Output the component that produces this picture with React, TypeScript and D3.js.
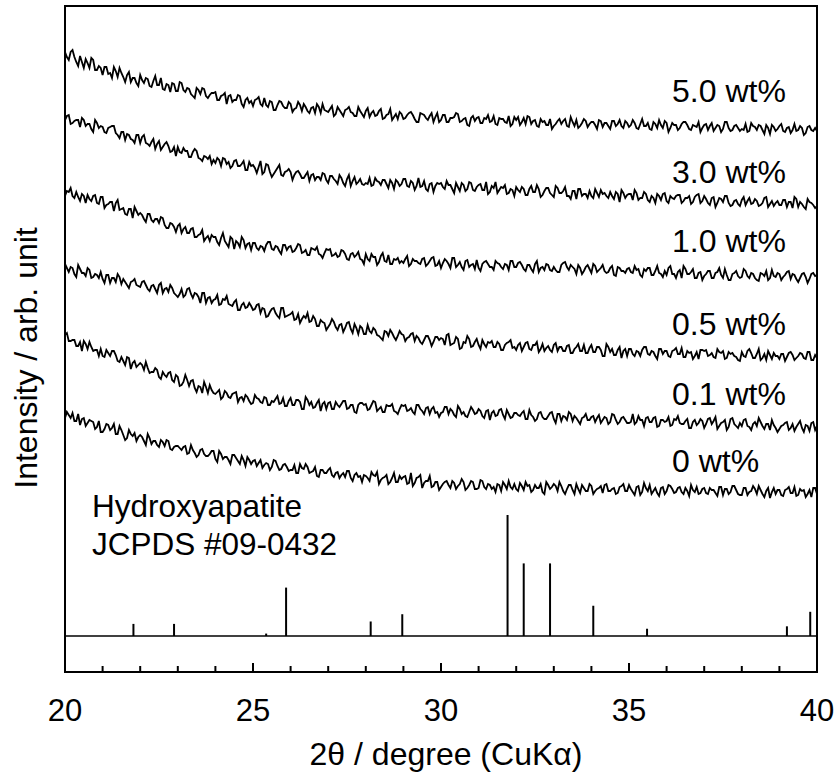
import React from "react";
import * as d3 from "d3";

// 2θ sampling grid (degrees): main samples every 0.1°, intermediate samples at +0.05°
const angles: number[] = d3.range(201).map((i) => +(20 + i * 0.1).toFixed(2));
const midAngles: number[] = d3.range(200).map((i) => +(20.05 + i * 0.1).toFixed(2));

const seriesLabels = ["5.0 wt%", "3.0 wt%", "1.0 wt%", "0.5 wt%", "0.1 wt%", "0 wt%"];

// stacked intensities (arb. unit) — samples at 20.0, 20.1, ... 40.0
const s50 = [
  620,612,622,610,616,604,609,614,602,606, 597,605,599,605,595,599,590,600,594,589,
  597,589,593,585,596,587,583,588,580,588, 581,589,580,583,576,584,578,583,574,579,
  580,572,577,568,577,572,577,568,572,569, 566,573,568,574,565,570,562,571,566,564,
  568,563,570,561,565,559,565,568,559,562, 560,566,558,562,556,563,560,556,565,558,
  561,555,561,557,563,554,558,552,558,560, 553,557,560,553,550,558,554,556,550,559,
  552,557,550,554,559,550,553,547,554,551, 555,549,553,550,556,547,553,550,556,548,
  552,547,554,556,548,552,545,550,547,553, 546,551,548,553,545,550,552,546,553,545,
  550,547,552,545,549,543,551,548,546,551, 545,552,544,548,546,549,542,548,552,544,
  549,544,547,542,548,550,543,547,545,540, 547,542,549,544,546,543,550,541,546,544,
  543,548,541,546,542,546,538,544,547,541, 546,541,544,539,548,542,544,539,546,541,
  541,
];
const s50mid = [
  615,620,615,606,610,613,604,612,602,604, 605,598,594,601,604,595,597,590,594,586,
  592,594,586,591,587,594,582,587,589,581, 590,582,584,578,574,582,584,576,577,579,
  572,576,579,576,570,572,576,565,574,571, 572,575,566,567,571,562,567,570,564,570,
  560,564,567,568,561,564,559,565,568,561, 563,556,565,559,562,565,559,556,561,555,
  564,559,556,561,553,557,563,555,553,558, 554,559,557,550,559,557,552,559,555,550,
  557,550,554,555,558,551,554,546,556,554, 549,554,557,551,548,554,553,549,546,555,
  555,550,548,555,551,546,553,551,547,543, 548,553,551,546,555,546,544,549,551,548,
  550,543,551,549,546,551,546,552,544,549, 547,549,543,553,546,543,550,544,547,551,
  540,549,547,544,550,547,542,546,550,544, 548,546,541,547,540,550,544,542,547,541,
  542,540,549,545,547,542,547,538,545,543, 548,540,545,542,541,546,537,545,542,544,
];
const s30 = [
  552,557,549,552,545,552,548,543,552,544, 545,539,545,546,537,540,532,537,532,537,
  529,537,528,530,523,531,525,530,520,525, 525,519,521,515,520,521,513,516,513,508,
  509,512,514,508,504,511,506,508,502,510, 507,499,511,500,507,495,501,507,496,501,
  500,497,501,494,497,491,498,495,492,498, 489,496,491,497,489,493,486,495,490,488,
  489,494,487,491,487,492,484,489,492,486, 493,486,491,482,494,486,483,488,480,489,
  489,483,487,483,489,481,487,483,489,481, 487,482,490,480,484,479,485,487,479,482,
  485,480,483,477,486,480,483,477,484,479, 475,484,479,485,476,481,473,483,478,474,
  476,483,475,478,476,480,473,478,482,474, 478,472,479,474,480,472,476,469,476,478,
  471,476,473,477,469,474,476,470,477,469, 476,469,474,465,474,470,476,466,471,468,
  472,467,474,469,471,467,474,465,471,469, 467,472,465,470,475,465,468,463,470,467,
  466,
];
const s30mid = [
  556,548,551,552,554,546,548,540,549,546, 540,544,546,539,534,540,538,533,529,537,
  535,529,526,533,528,522,528,526,521,516, 520,524,521,515,523,514,511,515,516,512,
  514,506,513,510,506,512,506,511,502,506, 504,505,498,508,500,498,504,497,500,503,
  492,500,498,494,500,497,492,495,499,492, 496,493,488,494,486,497,491,488,493,487,
  488,486,494,490,492,488,492,483,490,488, 493,485,489,486,485,491,481,489,486,488,
  485,491,487,479,485,489,481,490,482,485, 488,482,478,486,490,482,484,478,483,476,
  482,485,477,483,480,487,475,481,484,477, 486,479,481,476,473,481,483,476,478,481,
  474,479,482,479,474,476,480,470,479,477, 478,482,472,474,478,470,474,478,472,479,
  469,474,476,477,471,474,468,475,478,471, 473,467,475,469,473,476,469,467,472,466,
  475,471,468,473,466,469,475,468,466,471, 467,472,470,464,473,470,465,473,469,464,
];
const s10 = [
  476,480,476,480,471,476,477,471,477,468, 475,467,470,461,472,463,458,463,454,461,
  459,453,458,452,453,449,454,444,449,445, 446,439,445,439,444,435,438,431,436,437,
  435,427,439,428,435,423,429,435,424,429, 429,424,426,421,430,423,426,421,427,422,
  426,421,428,419,422,417,423,425,417,419, 422,416,419,416,421,413,418,415,420,412,
  418,411,415,407,416,411,417,408,412,409, 409,416,408,411,409,413,406,411,415,407,
  404,413,408,414,405,410,402,412,407,403, 404,408,411,405,402,409,405,408,402,411,
  405,410,403,407,403,408,400,405,408,402, 405,400,407,410,402,405,398,404,401,407,
  399,406,402,407,399,404,397,405,401,399, 404,399,402,397,403,404,397,401,399,395,
  397,406,398,400,394,403,398,403,394,400, 396,401,394,399,404,394,397,392,399,396,
  395,401,394,398,392,399,396,392,402,395, 398,395,400,393,397,390,398,395,393,399,
  397,
];
const s10mid = [
  481,484,474,475,478,469,473,476,469,475, 464,468,470,469,462,464,457,463,465,457,
  457,450,458,450,453,455,447,444,448,440, 448,443,439,443,435,437,442,434,431,435,
  430,434,431,425,433,431,425,432,428,422, 429,422,425,427,430,422,425,418,427,425,
  420,424,427,420,417,424,422,418,414,423, 423,417,415,422,418,412,419,417,413,408,
  413,418,415,410,419,410,408,413,414,411, 413,406,413,411,408,414,408,414,406,411,
  409,411,404,414,407,405,411,405,408,412, 401,410,408,405,411,408,403,407,411,405,
  409,407,401,407,400,411,404,402,407,401, 402,400,409,405,407,403,407,398,405,403,
  408,400,404,401,400,406,396,404,401,403, 400,406,403,395,401,404,397,406,398,401,
  404,398,394,402,406,398,400,394,399,392, 398,401,394,400,397,403,392,398,401,394,
  403,396,399,394,391,398,401,394,396,399, 392,397,401,398,393,394,399,389,398,396,
];
const s05 = [
  408,400,404,395,403,399,404,394,398,394, 393,397,389,394,398,388,390,384,391,387,
  385,391,383,386,383,387,379,384,387,379, 375,383,377,384,374,378,369,379,374,369,
  373,367,373,376,367,370,362,367,364,369, 362,367,359,363,356,363,359,354,364,356,
  358,352,358,353,354,350,356,346,352,349, 345,353,345,347,340,349,343,348,338,344,
  338,341,344,337,334,341,336,339,332,341, 337,334,338,331,334,328,336,332,330,335,
  334,327,338,328,335,323,330,336,325,330, 327,332,325,329,325,330,322,327,330,324,
  322,329,325,330,322,327,320,328,324,322, 327,321,325,321,327,319,325,321,327,319,
  327,320,325,316,328,320,317,322,314,323, 323,318,321,316,325,318,321,316,323,318,
  321,315,322,318,324,315,319,313,320,322, 321,316,319,314,320,321,314,318,316,312,
  320,315,323,314,318,312,318,321,313,316, 313,318,315,320,312,316,318,313,320,312,
  314,
];
const s05mid = [
  404,405,398,407,399,396,402,395,397,400, 389,397,394,390,395,393,387,390,393,386,
  390,387,381,387,379,389,383,380,384,377, 378,375,383,378,379,375,379,369,375,372,
  377,368,372,368,366,372,362,369,365,366, 363,368,364,355,360,364,356,364,355,357,
  360,353,349,356,359,351,353,346,350,342, 348,350,342,348,344,350,339,344,346,338,
  347,339,342,336,332,340,342,335,336,338, 331,335,339,336,330,332,336,326,335,332,
  333,337,327,329,333,324,329,333,326,333, 323,328,330,331,325,328,322,329,332,325,
  327,321,329,323,327,330,323,321,326,320, 329,325,321,326,319,323,328,321,319,324,
  320,325,322,316,325,323,317,325,321,316, 323,316,320,322,325,317,320,313,323,321,
  316,321,324,318,315,321,320,316,313,322, 322,317,315,323,319,313,320,319,315,311,
  316,321,319,314,323,314,312,317,319,316, 318,311,319,317,314,319,314,320,312,317,
];
const s01 = [
  337,331,332,326,330,331,323,325,322,316, 316,322,316,321,311,315,307,314,309,305,
  309,302,304,300,304,295,300,295,300,290, 295,287,297,286,292,280,285,290,279,282,
  278,282,275,279,274,279,270,275,277,271, 269,274,270,275,267,271,273,268,274,266,
  274,267,272,263,275,267,264,269,261,270, 269,263,270,265,271,263,267,260,267,269,
  268,263,271,261,265,260,266,268,260,263, 266,261,264,258,267,261,264,258,265,260,
  259,265,258,261,255,263,260,255,265,258, 263,256,261,252,261,257,263,253,258,255,
  259,256,261,253,257,251,259,255,253,259, 253,258,251,255,260,251,254,248,255,252,
  255,250,257,252,254,250,257,248,254,252, 249,258,250,252,246,255,250,255,246,252,
  251,246,253,256,248,251,244,250,247,253, 244,253,248,255,246,250,242,253,248,244,
  246,253,245,248,246,250,243,248,252,244, 243,247,250,244,241,248,244,247,241,250,
  246,
];
const s01mid = [
  339,331,332,326,321,328,330,321,322,323, 315,319,321,317,310,311,315,303,311,307,
  307,310,299,300,302,293,297,299,292,297, 286,290,292,291,284,286,279,285,287,279,
  280,273,281,275,278,280,274,271,275,268, 277,273,269,274,267,270,276,269,266,271,
  267,272,270,263,272,270,265,272,268,263, 270,263,267,268,271,264,267,259,269,267,
  262,267,270,263,260,267,266,261,258,267, 267,262,260,267,263,258,265,263,259,255,
  260,265,263,257,266,258,256,260,262,259, 261,254,262,259,256,262,257,262,254,259,
  257,259,253,262,255,253,260,253,256,260, 249,258,256,252,258,256,251,254,258,252,
  256,254,249,255,248,258,252,250,255,249, 250,248,256,252,254,250,254,245,252,250,
  255,247,252,249,248,253,244,252,249,251, 248,254,251,243,249,252,245,254,246,249,
  252,246,242,250,254,246,248,242,247,240, 246,249,242,248,245,251,240,246,249,242,
];
const s00 = [
  254,257,259,251,247,254,249,251,243,251, 240,248,242,248,238,242,232,242,236,231,
  237,231,238,228,231,225,230,232,223,225, 226,222,226,219,222,215,222,218,216,221,
  213,221,213,215,208,217,211,216,206,212, 211,206,212,207,208,205,211,202,207,205,
  202,207,199,204,208,199,201,196,202,199, 202,197,199,194,199,201,194,197,195,190,
  196,191,197,200,192,195,188,194,190,196, 195,188,199,189,195,184,191,196,186,190,
  185,190,187,191,183,188,190,184,191,183, 184,191,183,187,185,188,181,187,191,183,
  183,189,182,186,180,187,184,180,190,183, 188,181,186,178,187,182,188,179,184,181,
  186,181,184,179,188,181,184,179,186,181, 187,180,185,177,189,181,178,184,176,185,
  181,186,179,184,180,184,176,182,185,179, 184,178,182,179,185,177,183,180,186,178,
  177,184,180,186,178,182,175,184,180,178, 182,176,183,179,185,177,181,175,182,184,
  178,
];
const s00mid = [
  260,254,251,258,253,246,252,250,245,240, 243,247,244,238,246,237,234,238,239,235,
  235,227,234,231,227,232,226,231,222,226, 224,225,218,227,219,217,223,216,218,221,
  210,218,215,212,217,214,208,212,215,208, 212,209,204,209,202,212,206,203,208,201,
  202,199,208,203,205,200,205,195,202,199, 204,195,200,197,195,201,191,199,196,197,
  194,200,196,188,194,197,190,199,190,193, 196,189,186,194,197,189,191,185,190,182,
  188,191,184,189,186,193,182,187,190,183, 192,185,188,183,180,187,190,183,185,188,
  181,186,190,187,182,184,188,178,187,185, 186,190,181,183,187,178,183,187,181,188,
  178,183,186,187,181,183,178,185,188,181, 183,177,186,180,184,187,181,179,184,178,
  187,183,180,185,178,181,187,180,178,183, 179,184,182,176,185,183,178,186,182,177,
  184,177,181,183,186,178,181,174,184,182, 177,182,185,179,176,183,182,178,175,184,
];
const seriesMain = [s50, s30, s10, s05, s01, s00];
const seriesMid = [s50mid, s30mid, s10mid, s05mid, s01mid, s00mid];
// label baseline levels (intensity units)
const labelLevels = [570, 489, 420, 337, 267, 200];

// JCPDS #09-0432 hydroxyapatite reference
const refAngles = [21.82, 22.9, 25.35, 25.88, 28.13, 28.97, 31.77, 32.2, 32.9, 34.05, 35.48, 39.2, 39.82];
const refIntensity = [10, 10, 2, 40, 12, 18, 100, 60, 60, 25, 6, 8, 20];
const refBaseline = 36;
const refFullHeight = 121;

const xTicksMajor = [20, 25, 30, 35, 40];
const xTicksMinor = d3.range(20, 41, 1);

const W = 836, H = 776;
const M = { left: 65, right: 817, top: 6, bottom: 672 };
const FONT = "'Liberation Sans', Arial, Helvetica, sans-serif";

type Pt = { a: number; v: number };

function merged(k: number): Pt[] {
  const pts: Pt[] = [];
  seriesMain[k].forEach((v, i) => {
    pts.push({ a: angles[i], v });
    if (i < midAngles.length) pts.push({ a: midAngles[i], v: seriesMid[k][i] });
  });
  return pts;
}

export default function App() {
  const x = d3.scaleLinear().domain([20, 40]).range([M.left, M.right]);
  const y = d3.scaleLinear().domain([0, 666]).range([M.bottom, M.top]);
  const line = d3
    .line<Pt>()
    .x((d) => x(d.a))
    .y((d) => y(d.v));
  const stickY = d3.scaleLinear().domain([0, 100]).range([y(refBaseline), y(refBaseline + refFullHeight)]);

  return (
    <svg width={W} height={H} style={{ position: "absolute", left: 0, top: 0, background: "#fff" }} fontFamily={FONT}>
      <rect x={0} y={0} width={W} height={H} fill="#fff" />
      {seriesMain.map((_, k) => (
        <path key={k} d={line(merged(k)) || ""} fill="none" stroke="#000" strokeWidth={1.8} strokeLinejoin="miter" />
      ))}
      {seriesLabels.map((t, k) => (
        <text key={t} x={672} y={y(labelLevels[k])} fontSize={32} fill="#000">
          {t}
        </text>
      ))}
      {/* reference baseline and sticks */}
      <line x1={M.left} x2={M.right + 1} y1={y(refBaseline)} y2={y(refBaseline)} stroke="#000" strokeWidth={1.5} />
      {refAngles.map((a, i) => (
        <line key={a} x1={x(a)} x2={x(a)} y1={stickY(0)} y2={stickY(refIntensity[i])} stroke="#000" strokeWidth={2} />
      ))}
      <text x={92} y={517} fontSize={31.5} fill="#000">Hydroxyapatite</text>
      <text x={92} y={555} fontSize={31.5} fill="#000">JCPDS #09-0432</text>
      {/* frame */}
      <rect x={M.left} y={M.top} width={M.right - M.left} height={M.bottom - M.top} fill="none" stroke="#000" strokeWidth={2} />
      {xTicksMinor.map((t) => (
        <line key={"m" + t} x1={x(t)} x2={x(t)} y1={M.bottom} y2={M.bottom - (t % 5 === 0 ? 9 : 6)} stroke="#000" strokeWidth={2} />
      ))}
      {xTicksMajor.map((t) => (
        <text key={"l" + t} x={x(t)} y={721} fontSize={31} textAnchor="middle" fill="#000">
          {t}
        </text>
      ))}
      <text x={446} y={765} fontSize={32} textAnchor="middle" fill="#000">
        2θ / degree (CuKα)
      </text>
      <text transform={`translate(37,358) rotate(-90)`} fontSize={32} textAnchor="middle" fill="#000">
        Intensity / arb. unit
      </text>
    </svg>
  );
}
